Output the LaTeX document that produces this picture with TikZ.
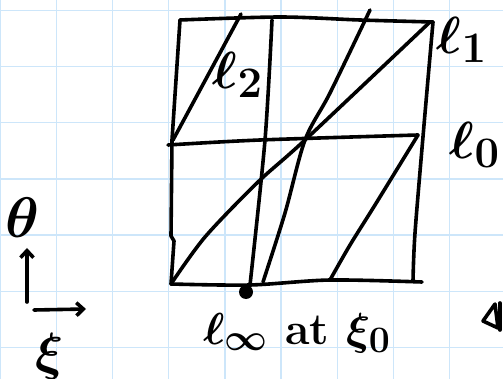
\documentclass[tikz,border=0pt]{standalone}
\usepackage{amsmath}
\usetikzlibrary{arrows.meta}
\definecolor{gridblue}{RGB}{205,230,250}
\newcommand{\hand}[2][1.85]{\scalebox{#1}{\Huge\bfseries\boldmath #2}}
\begin{document}
\begin{tikzpicture}[x=1pt,y=-1pt,line cap=round,line join=round,
  ink/.style={line width=3.6pt},
  barb/.style={-{Straight Barb[length=7pt,width=13pt]}},
  lbl/.style={inner sep=0pt}]

  \useasboundingbox (0,0) rectangle (503,379);

  % Grid spacing
  \def\g{56.2}

  % Paper grid
  \foreach \i in {0,...,8}
    \draw[gridblue,line width=1.4pt] (\i*\g,0) -- (\i*\g,379);
  \foreach \j in {0,...,6}
    \draw[gridblue,line width=1.4pt] (0,10.4+\j*\g) -- (503,10.4+\j*\g);

  \coordinate (TL) at (180,20);
  \coordinate (TR) at (433,22);
  \coordinate (BL) at (171,284);
  \coordinate (BR) at (422,282);
  \coordinate (ML) at (168,145);
  \coordinate (MR) at (418,135);
  \coordinate (C) at (305,140);

  % Square
  \draw[ink] plot[smooth] coordinates {(TL) (280,17) (360,20) (TR)};
  \draw[ink] plot[smooth] coordinates {(TR) (424,125) (415,233) (413,281)};
  \draw[ink] plot[smooth] coordinates {(BL) (250,285) (330,280) (BR)};
  \draw[ink] (TL) -- (172,140) -- (171,236) -- (174,241) -- (BL);

  % Cross lines
  \draw[ink] plot[smooth] coordinates {(ML) (260,140) (MR)};
  \draw[ink] plot[smooth] coordinates {(272,20) (265,140) (250,285)};

  % Lines l_2, l_1 and the steep one
  \draw[ink] (241,14) -- (173,140);
  \draw[ink] plot[smooth] coordinates
    {(370,10) (330,93) (C) (285,213) (263,282)};
  \draw[ink] plot[smooth] coordinates
    {(430,22) (C) (258,182) (205,237) (BL)};
  \draw[ink] plot[smooth] coordinates
    {(MR) (375,205) (350,245) (330,280)};

  % Point at infinity
  \fill (246,292) circle (7pt);

  % Labels
  \node[lbl] (l2) at (238,75) {\hand[2.1]{$\ell_2$}};
  \node[lbl] (l1) at (462,40) {\hand[2.1]{$\ell_1$}};
  \node[lbl] (l0) at (475,145) {\hand[2.1]{$\ell_0$}};
  \node[lbl] (linf) at (297,333) {\hand[1.8]{$\ell_\infty$ at $\xi_0$}};

  % Axes
  \coordinate (O) at (27,302);
  \coordinate (Up) at (27,248);
  \coordinate (Xs) at (34,310);
  \coordinate (Xe) at (86,309);
  \draw[ink,barb] (O) -- (Up);
  \draw[ink,barb] (Xs) -- (Xe);
  \node[lbl] (theta) at (22,218) {\hand[2.3]{$\theta$}};
  \node[lbl] (xi) at (50,356) {\hand[2.1]{$\xi$}};

  % Cut off mark at the edge
  \draw[ink] (495,304) -- (483,321) -- (498,328) -- cycle;
  \draw[ink] (500,303) -- (500,330);

\end{tikzpicture}
\end{document}
